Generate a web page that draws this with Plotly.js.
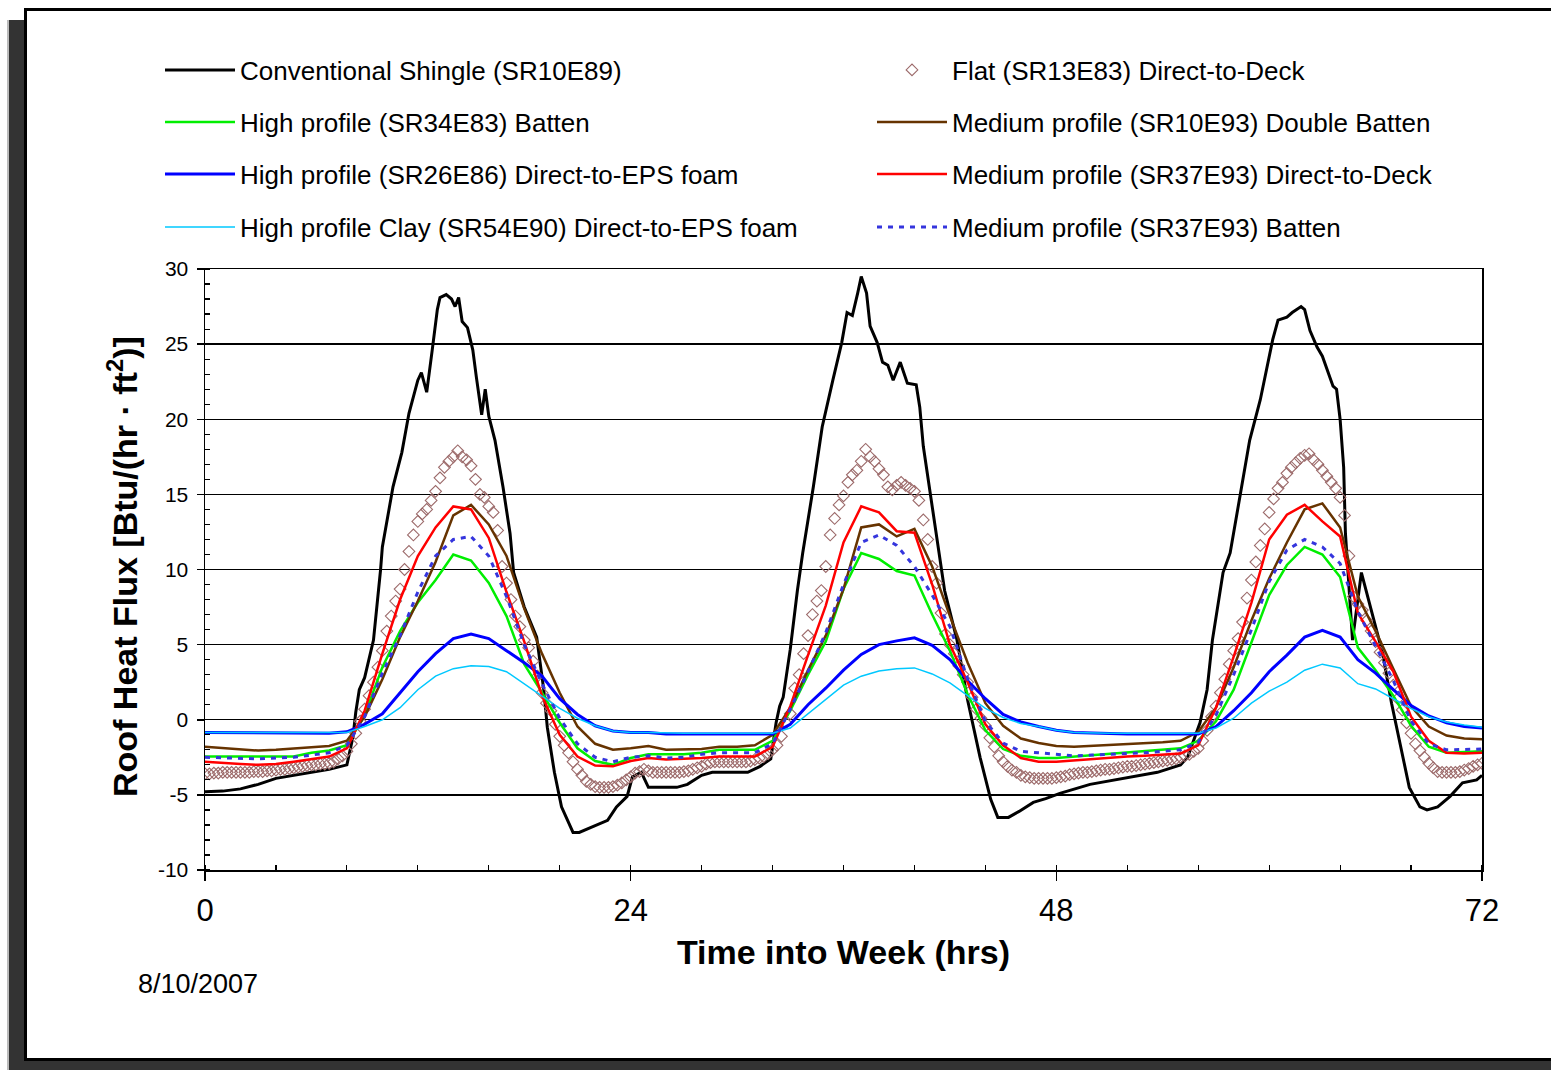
<!DOCTYPE html>
<html>
<head>
<meta charset="utf-8">
<script src="https://cdn.plot.ly/plotly-3.0.1.min.js"></script>
<style>
  html, body { margin: 0; padding: 0; background: #fff; overflow: hidden; width: 1551px; height: 1070px; }
  #card { position: absolute; left: 24px; top: 8px; width: 1600px; height: 1047px; border: 3px solid #000; background: #fff;
          box-shadow: -15px 12px 0 #333, -17px 12px 0 #bbb; }
  #chart { position: absolute; left: 0; top: 0; width: 1551px; height: 1070px; }
</style>
</head>
<body>
<div id="card"></div>
<div id="chart"></div>
<script>
// Time axis (hours into the week)
const hours = [0,1,2,3,4,5,6,7,8,9,10,11,12,13,14,15,16,17,18,19,20,21,22,23,24,25,26,27,28,29,30,31,32,33,34,35,36,
  37,38,39,40,41,42,43,44,45,46,47,48,49,50,51,52,53,54,55,56,57,58,59,60,61,62,63,64,65,66,67,68,69,70,71,72];

// 15-minute samples for the flat tile
const quarterHours = [0,0.25,0.5,0.75,1,1.25,1.5,1.75,2,2.25,2.5,2.75,3,3.25,3.5,3.75,4,4.25,4.5,4.75,
  5,5.25,5.5,5.75,6,6.25,6.5,6.75,7,7.25,7.5,7.75,8,8.25,8.5,8.75,9,9.25,9.5,9.75,
  10,10.25,10.5,10.75,11,11.25,11.5,11.75,12,12.25,12.5,12.75,13,13.25,13.5,13.75,14,14.25,14.5,14.75,
  15,15.25,15.5,15.75,16,16.25,16.5,16.75,17,17.25,17.5,17.75,18,18.25,18.5,18.75,19,19.25,19.5,19.75,
  20,20.25,20.5,20.75,21,21.25,21.5,21.75,22,22.25,22.5,22.75,23,23.25,23.5,23.75,24,24.25,24.5,24.75,
  25,25.25,25.5,25.75,26,26.25,26.5,26.75,27,27.25,27.5,27.75,28,28.25,28.5,28.75,29,29.25,29.5,29.75,
  30,30.25,30.5,30.75,31,31.25,31.5,31.75,32,32.25,32.5,32.75,33,33.25,33.5,33.75,34,34.25,34.5,34.75,
  35,35.25,35.5,35.75,36,36.25,36.5,36.75,37,37.25,37.5,37.75,38,38.25,38.5,38.75,39,39.25,39.5,39.75,
  40,40.25,40.5,40.75,41,41.25,41.5,41.75,42,42.25,42.5,42.75,43,43.25,43.5,43.75,44,44.25,44.5,44.75,
  45,45.25,45.5,45.75,46,46.25,46.5,46.75,47,47.25,47.5,47.75,48,48.25,48.5,48.75,49,49.25,49.5,49.75,
  50,50.25,50.5,50.75,51,51.25,51.5,51.75,52,52.25,52.5,52.75,53,53.25,53.5,53.75,54,54.25,54.5,54.75,
  55,55.25,55.5,55.75,56,56.25,56.5,56.75,57,57.25,57.5,57.75,58,58.25,58.5,58.75,59,59.25,59.5,59.75,
  60,60.25,60.5,60.75,61,61.25,61.5,61.75,62,62.25,62.5,62.75,63,63.25,63.5,63.75,64,64.25,64.5,64.75,
  65,65.25,65.5,65.75,66,66.25,66.5,66.75,67,67.25,67.5,67.75,68,68.25,68.5,68.75,69,69.25,69.5,69.75,
  70,70.25,70.5,70.75,71,71.25,71.5,71.75,72];

// Conventional shingle: denser samples around the sharp peaks
const shingleHours = [0,1,2,3,4,5,6,7,8,8.35,8.5,8.7,9,9.5,9.9,10,10.6,11.1,11.5,12,12.2,12.5,12.8,13.1,13.25,13.6,13.9,
  14.1,14.3,14.5,14.8,15.1,15.3,15.6,15.8,16,16.35,16.8,17.2,17.4,18,18.7,19.1,19.3,19.7,20.1,20.75,21.1,21.9,22.7,23.2,
  23.8,24.1,24.6,25,26.6,27.2,28,28.6,30.6,31.3,31.9,32.2,32.4,32.6,33,33.4,33.7,34.3,34.8,35.4,35.9,36.2,36.5,36.8,37,
  37.3,37.5,37.9,38.2,38.5,38.8,39.2,39.6,40.1,40.3,40.5,40.9,41.4,41.7,42.4,43,43.7,44.3,44.7,45.3,45.9,46.7,47.4,48.2,
  49.9,51.8,53.7,55,55.4,56.1,56.5,56.8,57.4,57.8,58.4,58.9,59.5,60.2,60.5,61,61.3,61.8,62,62.3,62.7,63,63.6,63.8,64,
  64.2,64.3,64.6,64.7,65.2,65.9,66.4,66.9,67.4,67.9,68.5,68.9,69.5,70.2,70.9,71.7,72];
const shingleFlux = [-4.8,-4.75,-4.6,-4.3,-3.9,-3.7,-3.5,-3.3,-3.0,-1.1,0.5,2.0,2.8,5.3,10.0,11.5,15.5,17.8,20.4,22.6,23.1,
  21.8,24.5,27.3,28.1,28.3,28.0,27.5,28.1,26.5,26.1,24.6,22.8,20.3,22.0,20.2,18.6,15.5,12.4,9.8,7.5,5.5,2.0,-0.5,-3.5,-5.8,
  -7.5,-7.5,-7.1,-6.7,-5.8,-5.1,-3.8,-3.5,-4.5,-4.5,-4.3,-3.7,-3.5,-3.5,-3.1,-2.6,-0.2,0.9,1.5,4.7,8.6,11.1,15.5,19.5,22.6,
  25.1,27.1,26.9,28.4,29.5,28.4,26.2,25.1,23.8,23.6,22.6,23.8,22.4,22.3,20.8,18.2,15.1,11.1,8.6,5.3,1.3,-2.5,-5.3,-6.5,
  -6.5,-6.1,-5.5,-5.25,-4.9,-4.3,-3.9,-3.5,-3.0,-2.5,-0.2,2.0,5.3,9.8,11.1,15.1,18.6,21.3,25.3,26.6,26.8,27.1,27.5,27.3,
  25.9,24.8,24.2,22.2,22.0,20.0,16.8,12.4,7.5,5.3,9.8,6.6,4.4,1.1,-1.8,-4.5,-5.8,-6.0,-5.8,-5.1,-4.2,-4.0,-3.7];

// Flat tile, direct-to-deck (15-minute samples)
const flatDeck = [
  -3.6,-3.6,-3.55,-3.55,-3.5,-3.5,-3.5,-3.5,-3.5,-3.5,-3.5,-3.45,-3.45,-3.45,-3.4,-3.4,-3.35,-3.3,-3.3,-3.25,
  -3.2,-3.15,-3.1,-3.05,-3.0,-3.0,-2.95,-2.95,-2.9,-2.8,-2.6,-2.4,-2.1,-1.6,-0.9,-0.1,0.7,1.6,2.5,3.5,
  4.6,5.9,6.9,7.9,8.7,10.0,11.2,12.3,13.2,13.7,14.0,14.6,15.2,16.1,16.8,17.2,17.5,17.9,17.5,17.3,
  16.9,16.0,15.0,14.8,14.2,13.8,12.6,10.2,9.1,8.0,6.9,6.2,5.3,4.8,3.9,2.9,1.8,1.1,0.6,-0.3,
  -1.1,-1.7,-2.2,-2.8,-3.3,-3.7,-4.1,-4.3,-4.45,-4.5,-4.5,-4.5,-4.45,-4.35,-4.2,-4.0,-3.8,-3.55,-3.45,-3.3,
  -3.4,-3.5,-3.5,-3.5,-3.5,-3.5,-3.5,-3.5,-3.45,-3.4,-3.3,-3.2,-3.1,-2.95,-2.85,-2.8,-2.8,-2.8,-2.8,-2.8,
  -2.8,-2.8,-2.8,-2.75,-2.65,-2.55,-2.45,-2.25,-2.0,-1.7,-1.1,-0.2,0.4,2.1,3.0,4.4,5.6,7.0,7.9,8.6,
  10.2,12.3,13.4,14.3,14.9,15.8,16.3,16.6,17.2,18.0,17.5,17.2,16.7,16.3,15.5,15.3,15.6,15.8,15.6,15.4,
  15.2,14.6,13.3,12.0,10.2,9.1,7.1,5.7,5.0,4.4,3.6,3.0,2.5,1.5,0.7,0.1,-0.4,-1.2,-1.8,-2.4,
  -2.8,-3.1,-3.35,-3.5,-3.7,-3.8,-3.85,-3.9,-3.9,-3.9,-3.9,-3.9,-3.85,-3.8,-3.75,-3.65,-3.6,-3.55,-3.5,-3.5,
  -3.45,-3.4,-3.35,-3.3,-3.3,-3.25,-3.2,-3.15,-3.1,-3.1,-3.05,-3.0,-2.95,-2.9,-2.85,-2.8,-2.75,-2.7,-2.65,-2.6,
  -2.5,-2.4,-2.3,-2.1,-1.9,-1.4,-0.7,0.2,0.9,1.8,2.7,3.7,4.6,5.4,6.5,8.1,9.3,10.5,11.6,12.7,
  13.8,14.7,15.4,15.8,16.4,16.8,17.1,17.4,17.6,17.7,17.3,17.0,16.6,16.2,15.8,15.4,14.8,13.6,10.9,8.2,
  7.7,7.3,6.6,5.9,5.2,4.5,3.8,3.1,2.3,1.4,0.65,-0.2,-0.9,-1.6,-2.05,-2.5,-2.9,-3.2,-3.45,-3.5,
  -3.5,-3.5,-3.5,-3.45,-3.35,-3.25,-3.1,-3.0,-2.9];

// Hourly series
const highBatten = [-2.45,-2.45,-2.5,-2.5,-2.5,-2.45,-2.2,-2.05,-1.7,0.3,
  3.5,5.9,7.8,9.3,11.0,10.6,9.1,6.9,3.7,1.8,
  -0.2,-1.9,-2.75,-3.0,-2.55,-2.3,-2.3,-2.3,-2.2,-2.0,
  -2.0,-2.0,-1.4,0.6,3.0,5.2,8.7,11.1,10.7,9.9,
  9.6,7.0,4.6,1.7,-0.7,-1.95,-2.4,-2.55,-2.55,-2.45,
  -2.35,-2.3,-2.2,-2.1,-2.0,-1.9,-1.4,-0.1,2.0,5.2,
  8.3,10.3,11.5,11.0,9.5,4.8,3.3,1.6,-0.4,-1.8,
  -2.2,-2.15,-2.1];

const medDoubleBatten = [-1.8,-1.9,-2.0,-2.05,-2.0,-1.9,-1.85,-1.75,-1.4,0.2,
  2.7,5.5,7.9,10.5,13.6,14.3,13.0,10.9,7.4,4.4,
  1.8,-0.45,-1.6,-2.0,-1.9,-1.75,-2.0,-2.0,-1.95,-1.8,
  -1.8,-1.7,-1.0,0.8,3.3,5.6,8.7,12.8,13.0,12.2,
  12.7,10.2,6.9,3.8,1.1,-0.4,-1.25,-1.55,-1.75,-1.8,
  -1.75,-1.7,-1.65,-1.6,-1.5,-1.4,-0.8,0.8,3.5,6.6,
  9.4,11.8,14.0,14.4,12.8,8.2,5.9,3.4,0.9,-0.45,
  -1.05,-1.25,-1.3];

const highEps = [-0.85,-0.85,-0.9,-0.9,-0.9,-0.9,-0.9,-0.9,-0.8,-0.3,
  0.4,1.8,3.2,4.4,5.4,5.7,5.4,4.6,3.8,2.9,
  1.4,0.35,-0.4,-0.75,-0.85,-0.85,-0.95,-0.95,-0.95,-0.95,
  -0.95,-0.95,-0.95,-0.3,1.0,2.1,3.3,4.35,5.0,5.25,
  5.45,4.95,4.0,2.6,1.4,0.35,-0.15,-0.45,-0.7,-0.85,
  -0.9,-0.95,-0.95,-0.95,-0.95,-0.95,-0.95,-0.45,0.6,1.8,
  3.2,4.3,5.5,5.95,5.5,4.0,3.1,2.0,0.95,0.25,
  -0.2,-0.45,-0.55];

const medDeck = [-2.8,-2.85,-2.95,-3.0,-2.95,-2.8,-2.6,-2.45,-1.9,0.6,
  4.4,8.0,10.9,12.8,14.2,14.0,12.1,8.5,5.2,1.6,
  -1.0,-2.45,-3.05,-3.1,-2.75,-2.55,-2.65,-2.6,-2.55,-2.45,
  -2.45,-2.45,-1.8,0.9,4.3,7.6,11.8,14.2,13.8,12.55,
  12.45,9.0,5.0,2.5,-0.3,-1.7,-2.55,-2.8,-2.8,-2.7,
  -2.65,-2.55,-2.45,-2.4,-2.3,-2.25,-1.7,0.8,4.2,7.8,
  12.0,13.65,14.3,13.2,12.2,7.1,5.2,3.2,0.2,-1.4,
  -2.2,-2.25,-2.2];

const clayEps = [-0.85,-0.85,-0.9,-0.9,-0.9,-0.9,-0.9,-0.9,-0.85,-0.45,
  0.0,0.8,2.0,2.9,3.4,3.6,3.55,3.2,2.4,1.6,
  0.75,0.1,-0.4,-0.75,-0.85,-0.85,-0.9,-0.9,-0.9,-0.9,
  -0.9,-0.9,-0.9,-0.55,0.4,1.4,2.3,2.9,3.25,3.4,
  3.45,3.05,2.45,1.6,0.75,0.15,-0.25,-0.45,-0.7,-0.85,
  -0.9,-0.9,-0.9,-0.9,-0.9,-0.9,-0.9,-0.55,0.1,1.1,
  1.9,2.5,3.3,3.7,3.45,2.4,2.05,1.4,0.75,0.2,
  -0.15,-0.35,-0.5];

const medBatten = [-2.5,-2.55,-2.6,-2.6,-2.55,-2.5,-2.35,-2.2,-1.7,0.2,
  3.1,5.6,8.5,10.9,12.0,12.2,10.9,8.2,5.0,2.4,
  0.1,-1.6,-2.5,-2.8,-2.5,-2.4,-2.55,-2.5,-2.3,-2.2,
  -2.2,-2.2,-1.6,0.7,3.2,5.8,9.0,11.8,12.3,11.6,
  10.2,8.3,6.2,2.7,-0.1,-1.55,-2.1,-2.2,-2.3,-2.4,
  -2.35,-2.3,-2.25,-2.2,-2.1,-2.0,-1.5,0.3,3.0,6.0,
  9.2,11.3,12.0,11.5,10.4,7.2,4.9,2.6,-0.1,-1.6,
  -2.0,-2.0,-1.95];

const seriesNames = [
  'Conventional Shingle (SR10E89)',
  'Flat (SR13E83) Direct-to-Deck',
  'High profile (SR34E83) Batten',
  'Medium profile (SR10E93) Double Batten',
  'High profile (SR26E86) Direct-to-EPS foam',
  'Medium profile (SR37E93) Direct-to-Deck',
  'High profile Clay (SR54E90) Direct-to-EPS foam',
  'Medium profile (SR37E93) Batten'
];
const xTicks = [0, 24, 48, 72];
const yTicks = [-10, -5, 0, 5, 10, 15, 20, 25, 30];

const FONT = 'Liberation Sans, Arial, sans-serif';

function legendKey(i) { return i === 0 ? 'legend' : 'legend' + (i + 1); }

function lineTrace(x, y, i, color, width, dash) {
  return { x: x, y: y, name: seriesNames[i], type: 'scatter', mode: 'lines', showlegend: true,
           line: { color: color, width: width, dash: dash || 'solid' },
           legend: legendKey(i) };
}

const traces = [
  lineTrace(shingleHours, shingleFlux, 0, '#000000', 3),
  { x: quarterHours, y: flatDeck, name: seriesNames[1], type: 'scatter', mode: 'markers', showlegend: true,
    marker: { symbol: 'diamond-open', size: 9, color: '#9c6a6a', line: { width: 1.1, color: '#9c6a6a' } },
    legend: 'legend2' },
  lineTrace(hours, highBatten, 2, '#00ee00', 2.5),
  lineTrace(hours, medDoubleBatten, 3, '#663300', 2.5),
  lineTrace(hours, highEps, 4, '#0000ff', 3),
  lineTrace(hours, medDeck, 5, '#ff0000', 2.5),
  lineTrace(hours, clayEps, 6, '#00c8ff', 1.5),
  lineTrace(hours, medBatten, 7, '#3535dd', 3, '5px,6px')
];

// one single-entry legend per series, laid out in two columns of four rows
const colX = [160 / 1551, 872 / 1551];
const rowY = [70, 122, 174, 227];
const legendOrder = [[0, 0], [1, 0], [0, 1], [1, 1], [0, 2], [1, 2], [0, 3], [1, 3]];

const layout = {
  width: 1551, height: 1070,
  showlegend: true,
  paper_bgcolor: 'rgba(0,0,0,0)', plot_bgcolor: 'rgba(0,0,0,0)',
  margin: { l: 205, r: 69, t: 269, b: 200, autoexpand: false },
  font: { family: FONT, color: '#000' },
  xaxis: {
    range: [0, 72], tickmode: 'array', tickvals: xTicks, ticktext: xTicks.map(String), tickangle: 0,
    ticks: 'outside', ticklen: 9, tickwidth: 1.5, tickcolor: '#000',
    showline: true, linecolor: '#000', linewidth: 1.5, mirror: true,
    showgrid: false, zeroline: false, automargin: true,
    tickfont: { size: 31, family: FONT }, ticklabelstandoff: 3,
    minor: { tickmode: 'linear', tick0: 0, dtick: 4, ticks: 'inside', ticklen: 5, tickcolor: '#000', tickwidth: 1.2, showgrid: false },
    title: { text: 'Time into Week (hrs)', font: { size: 34, family: FONT, weight: 'bold' }, standoff: 13 }
  },
  yaxis: {
    range: [-10, 30], tickmode: 'array', tickvals: yTicks, ticktext: yTicks.map(String),
    ticks: 'outside', ticklen: 7, tickwidth: 1.5, tickcolor: '#000',
    showline: true, linecolor: '#000', linewidth: 1.5, mirror: true,
    showgrid: true, gridcolor: '#000', gridwidth: 1.3, zeroline: false, automargin: false,
    tickfont: { size: 21, family: FONT }, ticklabelstandoff: 4,
    minor: { tickmode: 'linear', tick0: 0, dtick: 1, ticks: 'inside', ticklen: 5, tickcolor: '#000', tickwidth: 1.2, showgrid: false }
  },
  annotations: [
    // vertical axis title
    { text: 'Roof Heat Flux [Btu/(hr · ft<sup>2</sup>)]', textangle: -90,
      xref: 'paper', yref: 'paper', x: (122 - 205) / 1277, y: (870 - 567) / 601,
      xanchor: 'center', yanchor: 'middle', showarrow: false,
      font: { size: 34, family: FONT, weight: 'bold', color: '#000' } },
    { text: '8/10/2007', xref: 'paper', yref: 'paper', x: (136 - 205) / 1277, y: (870 - 984) / 601,
      xanchor: 'left', yanchor: 'middle', showarrow: false, font: { size: 27, family: FONT, color: '#000' } }
  ]
};

legendOrder.forEach(function (pos, i) {
  layout[legendKey(i)] = {
    visible: true,
    xref: 'container', yref: 'container',
    x: colX[pos[0]], y: 1 - rowY[pos[1]] / 1070,
    xanchor: 'left', yanchor: 'middle',
    bgcolor: 'rgba(0,0,0,0)', borderwidth: 0,
    font: { size: 26, family: FONT, color: '#000' },
    itemwidth: 70
  };
});

Plotly.newPlot('chart', traces, layout, { displayModeBar: false, staticPlot: true });
</script>
</body>
</html>
